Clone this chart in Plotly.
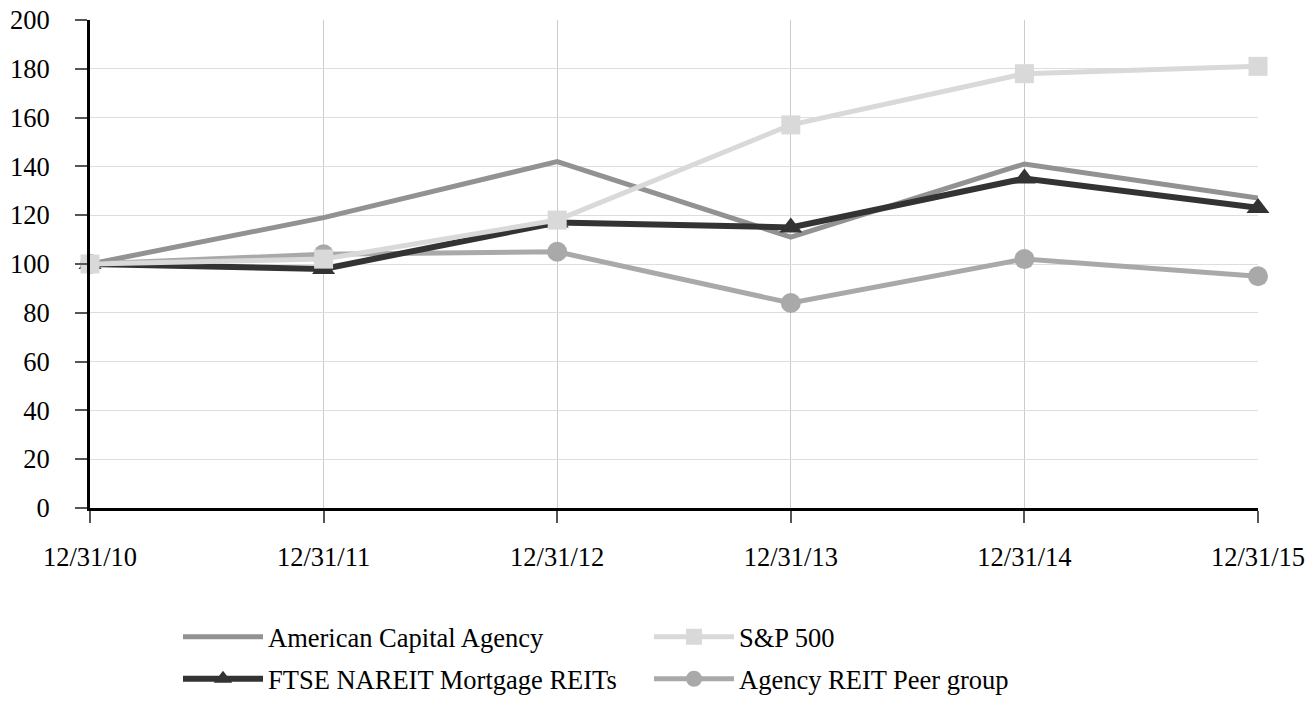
import plotly.graph_objects as go

dates = ["12/31/10", "12/31/11", "12/31/12", "12/31/13", "12/31/14", "12/31/15"]
agnc = [100, 119, 142, 111, 141, 127]
sp500 = [100, 102, 118, 157, 178, 181]
ftse = [100, 98, 117, 115, 135, 123]
peer = [100, 104, 105, 84, 102, 95]
y_ticks = [0, 20, 40, 60, 80, 100, 120, 140, 160, 180, 200]

FONT = "Liberation Serif, Times New Roman, serif"
FS = 26.5

fig = go.Figure()
fig.add_trace(go.Scatter(x=dates, y=agnc, name="American Capital Agency", mode="lines",
                         line=dict(color="#929292", width=5), legend="legend", legendrank=1,
                         cliponaxis=False))
fig.add_trace(go.Scatter(x=dates, y=peer, name="Agency REIT Peer group", mode="lines+markers",
                         line=dict(color="#a9a9a9", width=5),
                         marker=dict(symbol="circle", size=20, color="#a9a9a9"),
                         legend="legend2", legendrank=2, cliponaxis=False))
fig.add_trace(go.Scatter(x=dates, y=ftse, name="FTSE NAREIT Mortgage REITs", mode="lines+markers",
                         line=dict(color="#333333", width=6),
                         marker=dict(symbol="triangle-up", size=20, color="#333333"),
                         legend="legend2", legendrank=1, cliponaxis=False))
fig.add_trace(go.Scatter(x=dates, y=sp500, name="S&P 500", mode="lines+markers",
                         line=dict(color="#d9d9d9", width=5),
                         marker=dict(symbol="square", size=19, color="#d9d9d9"),
                         legend="legend", legendrank=2, cliponaxis=False))

W, H = 1308, 720
plot_l, plot_r, plot_t, plot_b = 90, 1258, 20, 508

def px_to_paper_x(p):
    return (p - plot_l) / (plot_r - plot_l)

def px_to_paper_y(p):
    return (plot_b - p) / (plot_b - plot_t)

leg_common = dict(orientation="h", entrywidth=376, entrywidthmode="pixels",
                  font=dict(family=FONT, size=FS, color="#000000"),
                  itemwidth=80, bgcolor="rgba(0,0,0,0)", xanchor="left", yanchor="middle",
                  traceorder="normal", itemclick=False)

fig.update_layout(
    width=W, height=H,
    margin=dict(l=plot_l, r=W - plot_r, t=plot_t, b=H - plot_b, autoexpand=False),
    paper_bgcolor="white", plot_bgcolor="white",
    font=dict(family=FONT, size=FS, color="#000000"),
    legend=dict(x=px_to_paper_x(178), y=px_to_paper_y(637), **leg_common),
    legend2=dict(x=px_to_paper_x(178), y=px_to_paper_y(679), **leg_common),
    showlegend=True,
)
fig.update_xaxes(type="category", range=[0, 5], showgrid=True, gridcolor="#cccccc", gridwidth=1,
                 showline=True, linecolor="#000000", linewidth=3,
                 ticks="outside", ticklen=12, tickcolor="#555555", tickwidth=1.5,
                 ticklabelstandoff=11, ticklabeloverflow="allow",
                 tickfont=dict(family=FONT, size=FS, color="#000000"),
                 zeroline=False, fixedrange=True, automargin=False)
fig.update_yaxes(range=[0, 200], tickvals=y_ticks, showgrid=True, gridcolor="#dddddd", gridwidth=1,
                 showline=True, linecolor="#000000", linewidth=3,
                 ticks="outside", ticklen=12, tickcolor="#555555", tickwidth=1.5,
                 ticklabelstandoff=20, ticklabeloverflow="allow",
                 tickfont=dict(family=FONT, size=FS, color="#000000"),
                 zeroline=False, fixedrange=True, automargin=False)

fig.write_html(
    "out.html",
    config={"displayModeBar": False},
    post_script="document.body.style.margin='0';document.body.style.overflow='hidden';",
)
